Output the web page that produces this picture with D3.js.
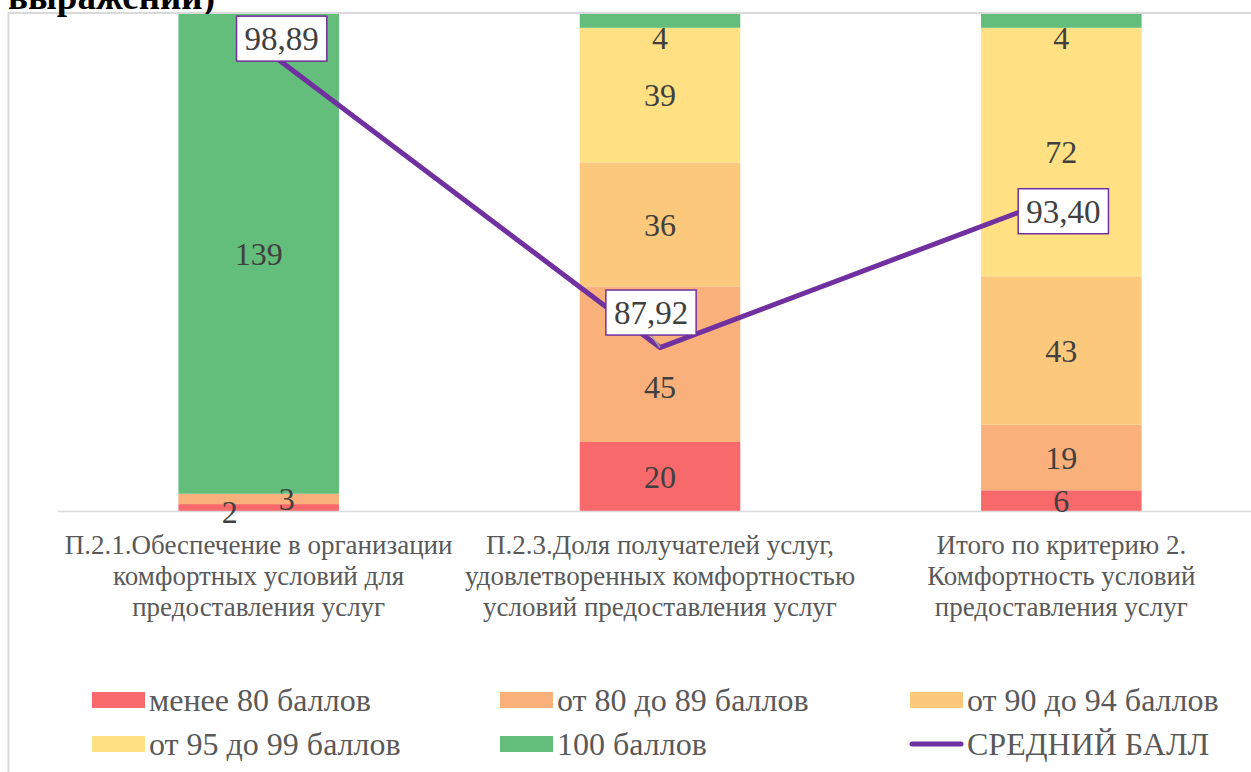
<!DOCTYPE html>
<meta charset="utf-8">
<style>
body { margin: 0; background: #fff; overflow: hidden; }
svg { display: block; }
text { font-family: "Liberation Serif", "Times New Roman", serif; }
</style>
<body>
<svg id="chart" width="1251" height="772"></svg>
<script src="https://cdn.jsdelivr.net/npm/d3@7"></script>
<script>

// categories (x axis), broken into lines as in the original
var categories = [
  ["П.2.1.Обеспечение в организации", "комфортных условий для", "предоставления услуг"],
  ["П.2.3.Доля получателей услуг,", "удовлетворенных комфортностью", "условий предоставления услуг"],
  ["Итого по критерию 2.", "Комфортность условий", "предоставления услуг"]
];

var seriesNames = ["менее 80 баллов", "от 80 до 89 баллов", "от 90 до 94 баллов", "от 95 до 99 баллов", "100 баллов"];
var less80    = [2, 20, 6];
var from80    = [3, 45, 19];
var from90    = [0, 36, 43];
var from95    = [0, 39, 72];
var score100  = [139, 4, 4];

var lineName = "СРЕДНИЙ БАЛЛ";
var avgScore = [98.89, 87.92, 93.40];

var colors = ["#F8696B", "#FAB07A", "#FCC87C", "#FFE083", "#63BE7B"];
var lineColor = "#7030A0";

// manual nudges of some labels, as moved by hand in the original
var barLabelNudge = { "0-0": [-29, 4], "1-0": [28, 0], "1-1": [0, 22], "4-1": [0, 17], "4-2": [0, 17] };
var lineLabelNudge = [[23, -6], [-9, -35], [2, 15]];

var svg = d3.select("#chart");
var W = 1251, H = 772;

var plot = { left: 58, right: 1262, top: 14, bottom: 511 };

// frame of the chart (right and bottom are cut off in the picture)
svg.append("rect")
    .attr("x", 8.5).attr("y", 13)
    .attr("width", 1300).attr("height", 900)
    .attr("fill", "none")
    .attr("stroke", "#d9d9d9")
    .attr("stroke-width", 2);

// title, only its last line is visible
svg.append("text")
    .attr("x", 8).attr("y", 9)
    .attr("font-size", 37)
    .attr("font-weight", "bold")
    .attr("fill", "#000")
    .text("выражений)");

var keys = categories.map(function(c, i) { return i; });
var rows = keys.map(function(i) {
  return { cat: i, s0: less80[i], s1: from80[i], s2: from90[i], s3: from95[i], s4: score100[i] };
});
var stack = d3.stack().keys(["s0", "s1", "s2", "s3", "s4"]);
var stacked = stack(rows);

var x = d3.scaleBand()
    .domain(keys)
    .range([plot.left, plot.right])
    .paddingInner(0.6)
    .paddingOuter(0.3);

var y = d3.scaleLinear()
    .domain([0, d3.max(rows, function(r) { return r.s0 + r.s1 + r.s2 + r.s3 + r.s4; })])
    .range([plot.bottom, plot.top]);

var y2 = d3.scaleLinear()
    .domain([82, 100])
    .range([plot.bottom, plot.top]);

// bars
var layer = svg.append("g").selectAll("g")
    .data(stacked)
  .enter().append("g")
    .attr("fill", function(d, i) { return colors[i]; });

layer.selectAll("rect")
    .data(function(d) { return d; })
  .enter().append("rect")
    .attr("x", function(d) { return x(d.data.cat); })
    .attr("width", x.bandwidth())
    .attr("y", function(d) { return y(d[1]); })
    .attr("height", function(d) { return y(d[0]) - y(d[1]); });

// baseline
svg.append("line")
    .attr("x1", plot.left).attr("x2", W)
    .attr("y1", plot.bottom + 0.5).attr("y2", plot.bottom + 0.5)
    .attr("stroke", "#d9d9d9")
    .attr("stroke-width", 1.5);

// bar value labels
stacked.forEach(function(s, si) {
  s.forEach(function(d, ci) {
    var v = d[1] - d[0];
    if (!v) return;
    var n = barLabelNudge[si + "-" + ci] || [0, 0];
    svg.append("text")
        .attr("x", x(d.data.cat) + x.bandwidth() / 2 + n[0])
        .attr("y", (y(d[0]) + y(d[1])) / 2 + n[1])
        .attr("dy", "0.35em")
        .attr("text-anchor", "middle")
        .attr("font-size", 32)
        .attr("fill", "#404040")
        .text(v);
  });
});

// average score line
var pts = avgScore.map(function(v, i) {
  return [x(i) + x.bandwidth() / 2, y2(v)];
});

svg.append("path")
    .datum(pts)
    .attr("d", d3.line())
    .attr("fill", "none")
    .attr("stroke", lineColor)
    .attr("stroke-width", 5)
    .attr("stroke-linejoin", "round")
    .attr("stroke-linecap", "round");

var leaders = svg.append("g");
var fmt = d3.format(".2f");
avgScore.forEach(function(v, i) {
  var n = lineLabelNudge[i];
  var cx = pts[i][0] + n[0], cy = pts[i][1] + n[1];
  var g = svg.append("g");
  var rect = g.append("rect");
  var t = g.append("text")
      .attr("x", cx).attr("y", cy)
      .attr("dy", "0.35em")
      .attr("text-anchor", "middle")
      .attr("font-size", 33)
      .attr("fill", "#404040")
      .text(fmt(v).replace(".", ","));
  var b = t.node().getBBox();
  var bw = b.width + 16, bh = 45;
  rect.attr("x", cx - bw / 2).attr("y", cy - bh / 2)
      .attr("width", bw).attr("height", bh)
      .attr("fill", "#fff")
      .attr("stroke", lineColor)
      .attr("stroke-width", 1.5);
  if (Math.abs(n[1]) > 25) {
    // leader line from a moved label back to its point
    leaders.append("line")
        .attr("x1", cx).attr("y1", cy + bh / 2)
        .attr("x2", pts[i][0]).attr("y2", pts[i][1])
        .attr("stroke", "#a6a6a6")
        .attr("stroke-width", 1.5);
  }
});

// category labels
var catLabels = svg.append("g").selectAll("text")
    .data(categories)
  .enter().append("text")
    .attr("text-anchor", "middle")
    .attr("font-size", 27)
    .attr("fill", "#595959");

catLabels.selectAll("tspan")
    .data(function(d, i) { return d.map(function(line) { return { line: line, i: i }; }); })
  .enter().append("tspan")
    .attr("x", function(d) { return x(d.i) + x.bandwidth() / 2; })
    .attr("y", function(d, j) { return 554 + j * 31; })
    .text(function(d) { return d.line; });

// legend
var legendItems = seriesNames.map(function(name, i) { return { name: name, color: colors[i], type: "rect" }; });
legendItems.push({ name: lineName, color: lineColor, type: "line" });

var colX = [92, 500, 910];
var rowY = [700, 744];

legendItems.forEach(function(d, i) {
  var lx = colX[i % 3], ly = rowY[Math.floor(i / 3)];
  var g = svg.append("g").attr("transform", "translate(" + lx + "," + ly + ")");
  if (d.type === "rect") {
    g.append("rect")
        .attr("x", 0).attr("y", -8)
        .attr("width", 53).attr("height", 16)
        .attr("fill", d.color);
  } else {
    g.append("line")
        .attr("x1", 2).attr("x2", 51)
        .attr("y1", 0).attr("y2", 0)
        .attr("stroke", d.color)
        .attr("stroke-width", 5)
        .attr("stroke-linecap", "round");
  }
  g.append("text")
      .attr("x", 57).attr("y", 0)
      .attr("dy", "0.35em")
      .attr("font-size", 32)
      .attr("fill", "#595959")
      .text(d.name);
});

</script>
</body>
